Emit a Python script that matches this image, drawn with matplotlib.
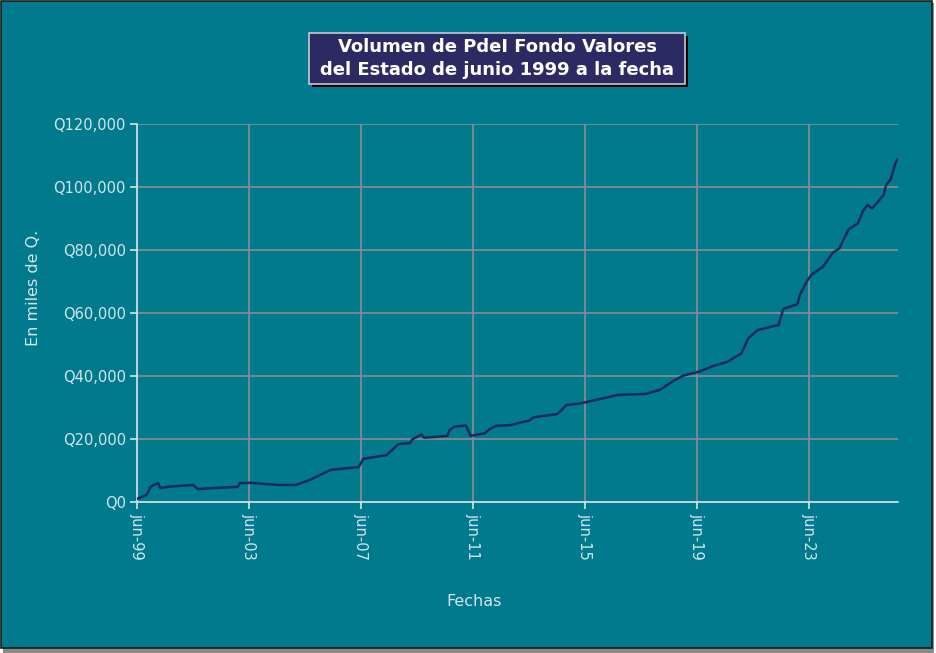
import matplotlib.pyplot as plt
import numpy as np
import pandas as pd
from matplotlib.patches import Rectangle

# monthly readings, thousands of quetzales
fechas = ["1999-06", "1999-10", "1999-12", "2000-03", "2000-04", "2000-08",
          "2001-06", "2001-08", "2002-02", "2003-01", "2003-02", "2003-07",
          "2004-01", "2004-07", "2005-02", "2005-08", "2006-05", "2007-05",
          "2007-07", "2008-05", "2008-10", "2009-03", "2009-04", "2009-08",
          "2009-09", "2010-07", "2010-08", "2010-10", "2011-03", "2011-05",
          "2011-11", "2012-01", "2012-04", "2012-10", "2013-02", "2013-06",
          "2013-08", "2014-06", "2014-08", "2014-10", "2015-04", "2015-07",
          "2016-03", "2016-08", "2017-08", "2018-02", "2018-08", "2018-12",
          "2019-07", "2020-01", "2020-07", "2021-01", "2021-04", "2021-08",
          "2022-05", "2022-07", "2023-01", "2023-02", "2023-05", "2023-07",
          "2023-12", "2024-04", "2024-07", "2024-09", "2024-11", "2025-03",
          "2025-05", "2025-07", "2025-09", "2026-02", "2026-03", "2026-05",
          "2026-07", "2026-08"]
volumen = [1.0, 2.2, 5.0, 6.0, 4.4, 4.9,
           5.4, 4.1, 4.4, 4.8, 6.0, 6.1,
           5.7, 5.4, 5.4, 7.0, 10.2, 11.1,
           13.7, 14.9, 18.4, 18.7, 19.9, 21.5,
           20.4, 21.0, 22.9, 23.9, 24.3, 21.0,
           21.8, 23.1, 24.2, 24.4, 25.2, 25.8,
           26.9, 27.9, 29.2, 30.8, 31.3, 31.8,
           33.1, 34.0, 34.3, 35.6, 38.5, 40.1,
           41.4, 43.2, 44.5, 47.2, 52.0, 54.6,
           56.2, 61.3, 62.8, 65.7, 69.9, 72.1,
           74.7, 79.0, 80.5, 83.7, 86.6, 88.5,
           92.2, 94.3, 93.2, 97.5, 100.6, 102.4,
           107.5, 108.8]

tick_fechas = ["1999-06", "2003-06", "2007-06", "2011-06", "2015-06", "2019-06", "2023-06"]
tick_labels = ["jun-99", "jun-03", "jun-07", "jun-11", "jun-15", "jun-19", "jun-23"]
y_ticks = [0, 20000, 40000, 60000, 80000, 100000, 120000]

bg = "#007A8C"
navy = "#1E2A5C"
light = "#D2E6EA"
W, H = 936, 653

x = pd.to_datetime(fechas)
y = np.array(volumen) * 1000

fig = plt.figure(figsize=(9.36, 6.53), dpi=100, facecolor="white")

# outer frame: gray shadow, then teal panel with dark edge
fig.add_artist(Rectangle((3 / W, 0), 931 / W, 650 / H, transform=fig.transFigure,
                         facecolor="#8A8A8A", edgecolor="none", zorder=-3))
fig.add_artist(Rectangle((0.5 / W, 5 / H), 931 / W, 647.5 / H, transform=fig.transFigure,
                         facecolor=bg, edgecolor="#1A1A1A", lw=1.2, zorder=-2))

ax = fig.add_axes([137 / W, 1 - 502 / H, (898 - 137) / W, (502 - 124) / H])
ax.set_facecolor(bg)

ax.plot(x, y, color=navy, lw=1.8, zorder=3)

ax.set_xlim(pd.Timestamp("1999-06-01"), pd.Timestamp("2026-08-05"))
ax.set_ylim(0, 120000)
ax.set_xticks(pd.to_datetime(tick_fechas))
ax.set_xticklabels(tick_labels, rotation=-90)
ax.set_yticks(y_ticks)
ax.set_yticklabels(["Q{:,}".format(v) for v in y_ticks])

ax.grid(True, color="#8E8E8E", lw=1.2)
ax.set_axisbelow(True)
for s in ["top", "right"]:
    ax.spines[s].set_visible(False)
for s in ["left", "bottom"]:
    ax.spines[s].set_color(light)
    ax.spines[s].set_linewidth(1.2)
ax.tick_params(colors=light, labelsize=10.5, length=5, width=1.2, pad=3)

fig.text(474 / W, 1 - 601 / H, "Fechas", color=light, fontsize=11.5,
         ha="center", va="center")
fig.text(34 / W, 1 - 288 / H, "En miles de Q.", color=light, fontsize=11.5,
         rotation=90, ha="center", va="center")

# title box with shadow
fig.add_artist(Rectangle((312 / W, 1 - 87 / H), 376 / W, 51 / H,
                         transform=fig.transFigure, facecolor="black", edgecolor="none"))
fig.add_artist(Rectangle((309 / W, 1 - 84 / H), 376 / W, 51 / H,
                         transform=fig.transFigure, facecolor="#2C2A62",
                         edgecolor="#C8C8D8", lw=1.2))
fig.text(497 / W, 1 - 47 / H, "Volumen de PdeI Fondo Valores", color="white",
         fontsize=13, fontweight="bold", ha="center", va="center")
fig.text(497 / W, 1 - 70 / H, "del Estado de junio 1999 a la fecha", color="white",
         fontsize=13, fontweight="bold", ha="center", va="center")

fig.savefig("out.png", dpi=100, facecolor="white")
